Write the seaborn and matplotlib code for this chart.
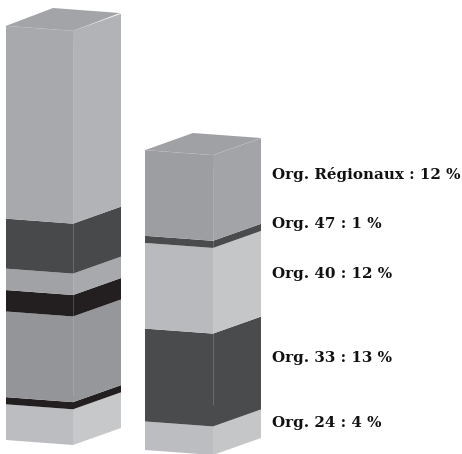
import matplotlib
matplotlib.use("Agg")
import matplotlib.pyplot as plt
from matplotlib.transforms import Affine2D
import seaborn as sns

# --- data (share in %, bottom segment first) ---
left_shares = [5, 1, 12, 3, 3, 7, 27]
left_front = ["#bcbdc0", "#231f20", "#939598", "#231f20", "#a1a2a5", "#48494b", "#a8a9ac"]
left_side = ["#c7c8ca", "#231f20", "#96979a", "#231f20", "#a8a9ac", "#48494b", "#b2b3b6"]
left_top = "#a3a4a7"

right_names = ["Org. 24", "Org. 33", "Org. 40", "Org. 47", "Org. Régionaux"]
right_shares = [4, 13, 12, 1, 12]
right_front = ["#bcbdc0", "#4a4b4d", "#b9babd", "#4a4b4d", "#9d9ea1"]
right_side = ["#c5c6c8", "#4a4b4d", "#c5c6c8", "#4a4b4d", "#a3a4a7"]
right_top = "#a0a1a4"
label_rows = [423, 358, 274, 224, 174]

W, H = 462, 454
K = 7.14  # pixels per percentage point

sns.set_theme(style="white")
plt.rcParams["font.family"] = ["DejaVu Serif", "DejaVu Sans"]
fig, ax = plt.subplots(figsize=(W / 100, H / 100), dpi=100)
ax.set_position([0, 0, 1, 1])


def to_y(py):
    return (H - py) / K


def face(value, bottom, color, mat):
    n = len(ax.patches)
    sns.barplot(x=["c"], y=[value], bottom=bottom, color=color, width=1,
                saturation=1, errorbar=None, linewidth=0, ax=ax)
    for p in ax.patches[n:]:
        p.set_transform(Affine2D(mat) + ax.transData)
        p.set_antialiased(True)


def column(shares, fronts, sides, top, xl, xm, xr, base_l, base_m, base_r, back):
    wl, wr = xm - xl, xr - xm
    sl = (base_l - base_m) / K / wl
    sr = (base_m - base_r) / K / wr
    m_front = [[wl, 0, (xl + xm) / 2], [sl * wl, 1, to_y(base_l) + sl * wl / 2], [0, 0, 1]]
    m_side = [[wr, 0, (xm + xr) / 2], [sr * wr, 1, to_y(base_m) + sr * wr / 2], [0, 0, 1]]
    b = 0
    for v, cf, cs in zip(shares, fronts, sides):
        face(v, b, cf, m_front)
        face(v, b, cs, m_side)
        b += v
    # top parallelogram: spanned by the front-left edge and the depth edge
    y0 = to_y(base_l) + b
    ex, ey = wl, sl * wl
    dx, dy = back[0] - xl, (base_l - back[1]) / K - b
    m_top = [[ex, dx, xl + ex / 2], [ey, dy, y0 + ey / 2], [0, 0, 1]]
    face(1, 0, top, m_top)
    ymid_top = to_y(base_m) + b
    ax.plot([xm, xm], [to_y(base_m) + 7, ymid_top - 2], color="#c9cacc", lw=0.4, alpha=0.45, zorder=5)
    ax.plot([xl, xm, xr], [y0, ymid_top, to_y(base_r) + b], color="#b8b9bb", lw=0.4, alpha=0.5, zorder=5)


column(left_shares, left_front, left_side, left_top, 6, 73, 121, 440, 445, 428, (53, 8))
column(right_shares, right_front, right_side, right_top, 145, 213, 261, 450, 455, 438, (193, 133))

for name, share, row in zip(right_names, right_shares, label_rows):
    ax.text(272, to_y(row), f"{name} : {share} %", fontsize=10.9, fontweight="bold",
            color="#111111", va="center", ha="left")

ax.set_xlim(0, W)
ax.set_ylim(0, H / K)
ax.axis("off")
fig.savefig("out.png", dpi=100, facecolor="white")
